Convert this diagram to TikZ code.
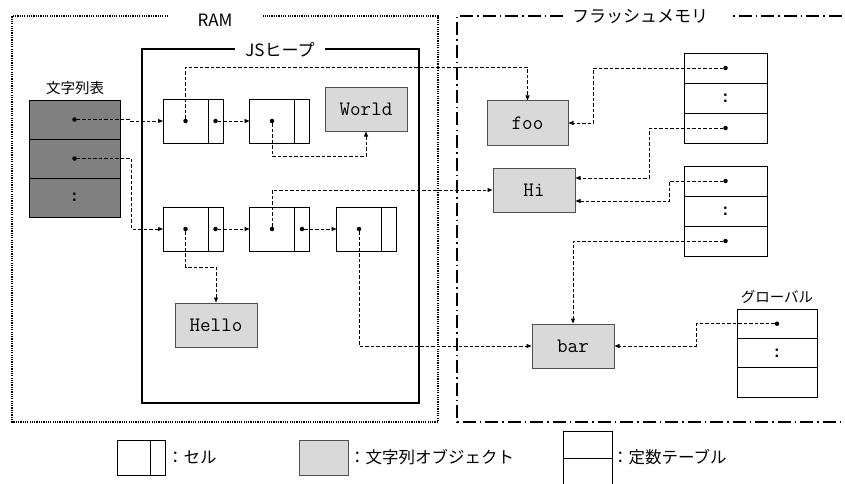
\documentclass[tikz,border=0pt]{standalone}
\usepackage{fontspec}
\setmainfont{Noto Sans CJK JP}
\newfontfamily\colonfont{Liberation Mono}
\usetikzlibrary{arrows.meta,positioning}
\definecolor{strG}{RGB}{217,217,217}
\definecolor{tblG}{RGB}{128,128,128}
\definecolor{edgeG}{RGB}{80,80,80}

\tikzset{
  cellL/.style={draw=black,line width=0.9pt,minimum width=45,minimum height=44,inner sep=0,outer sep=0},
  cellR/.style={cellL,minimum width=15},
  strobj/.style={draw=edgeG,fill=strG,line width=1pt,minimum width=82,minimum height=44,inner sep=0,
    font=\ttfamily\fontsize{20.5}{20.5}\selectfont},
  crow/.style={draw=black,line width=0.9pt,minimum width=83,minimum height=30,inner sep=0,outer sep=0,
    font=\colonfont\bfseries\fontsize{16}{16}\selectfont},
  strow/.style={crow,fill=tblG,minimum width=91,minimum height=39},
  ptrdot/.style={circle,fill=black,inner sep=0,minimum size=4.5},
  ptr/.style={-{Triangle[length=5pt,width=4pt]},dash pattern=on 3.5pt off 2pt,line width=0.9pt},
  lbl/.style={inner sep=0,font=\fontsize{17}{17}\selectfont},
  smlbl/.style={inner sep=0,font=\fontsize{14.5}{14.5}\selectfont},
  lgd/.style={inner sep=0,anchor=west,font=\fontsize{16.5}{16.5}\selectfont},
}

\begin{document}
\begin{tikzpicture}[x=1pt,y=-1pt]
\useasboundingbox (0,0) rectangle (845,484);
% memory regions
\draw[line width=1.5pt,dash pattern=on 1.2pt off 1.1pt] (168,16) -- (12,16) -- (12,422) -- (438,422) -- (438,16) -- (263,16);
\node[lbl] (ramlbl) at (215,20) {RAM};
\draw[line width=2pt] (142,49) rectangle (419,403);
\node[lbl,fill=white,inner xsep=10pt,inner ysep=2pt] (heaplbl) at (280,50) {JSヒープ};
\draw[line width=2pt,dash pattern=on 13pt off 4pt on 1.5pt off 4pt] (563,16) -- (457,16) -- (457,422) -- (845,422);
\draw[line width=2pt,dash pattern=on 1.5pt off 4pt on 13pt off 4pt] (733,16) -- (845,16);
\node[lbl] (flashlbl) at (640,17) {フラッシュメモリ};

% string table
\node[smlbl] (strtbllbl) at (75,88) {文字列表};
\node[strow] (s1) at (74.5,119.5) {};
\node[strow,below=0pt of s1] (s2) {};
\node[strow,below=0pt of s2] (s3) {:};

% cells
\node[cellL] (a1) at (185.5,121) {};  \node[cellR,right=0pt of a1] (a1p) {};
\node[cellL] (a2) at (272,121) {};    \node[cellR,right=0pt of a2] (a2p) {};
\node[cellL] (b1) at (185.5,229) {};  \node[cellR,right=0pt of b1] (b1p) {};
\node[cellL] (b2) at (272,229) {};    \node[cellR,right=0pt of b2] (b2p) {};
\node[cellL] (b3) at (359,229) {};    \node[cellR,right=0pt of b3] (b3p) {};

% string objects
\node[strobj,minimum height=43] (world) at (366,109.5) {World};
\node[strobj] (hello) at (216,325) {Hello};
\node[strobj,minimum width=81] (foo) at (527.5,123) {foo};
\node[strobj] (hi) at (534,190) {Hi};
\node[strobj] (bar) at (573,346) {bar};

% constant tables
\node[crow] (t1a) at (725.5,68) {};
\node[crow,below=0pt of t1a] (t1b) {:};
\node[crow,below=0pt of t1b] (t1c) {};
\node[crow] (t2a) at (725.5,181) {};
\node[crow,below=0pt of t2a] (t2b) {:};
\node[crow,below=0pt of t2b] (t2c) {};
\node[smlbl] (globlbl) at (777,297) {グローバル};
\node[crow,minimum width=80,minimum height=29.3] (g1) at (777,323.7) {};
\node[crow,minimum width=80,minimum height=29.3,below=0pt of g1] (g2) {:};
\node[crow,minimum width=80,minimum height=29.3,below=0pt of g2] (g3) {};

% pointer dots
\node[ptrdot] (s1d) at (s1) {};   \node[ptrdot] (s2d) at (s2) {};
\node[ptrdot] (a1d) at (a1) {};   \node[ptrdot] (a1pd) at (a1p) {};
\node[ptrdot] (a2d) at (a2) {};
\node[ptrdot] (b1d) at (b1) {};   \node[ptrdot] (b1pd) at (b1p) {};
\node[ptrdot] (b2d) at (b2) {};   \node[ptrdot] (b2pd) at (b2p) {};
\node[ptrdot] (b3d) at (b3) {};
\node[ptrdot] (t1ad) at (t1a) {}; \node[ptrdot] (t1cd) at (t1c) {};
\node[ptrdot] (t2ad) at (t2a) {}; \node[ptrdot] (t2cd) at (t2c) {};
\node[ptrdot] (g1d) at (g1) {};

% pointers
\draw[ptr] (s1d) -- ++(56,0) |- (a1.west);
\draw[ptr] (s2d) -- ++(57,0) |- (b1.west);
\draw[ptr] (a1d) -- ++(0,-54) -| (foo.north);
\draw[ptr] (a1pd) -- (a2.west);
\draw[ptr] (a2d) -- ++(0,35) -| (world.south);
\draw[ptr] (b1d) -- ++(0,38) -| (hello.north);
\draw[ptr] (b1pd) -- (b2.west);
\draw[ptr] (b2d) |- (hi.west);
\draw[ptr] (b2pd) -- (b3.west);
\draw[ptr] (b3d) |- (bar.west);
\draw[ptr] (t1ad) -- ++(-132,0) |- (foo.east);
\draw[ptr] (t1cd) -- ++(-76,0) |- ([yshift=12pt]hi.east);
\draw[ptr] (t2ad) -- ++(-56,0) |- ([yshift=-11pt]hi.east);
\draw[ptr] (t2cd) -| (bar.north);
\draw[ptr] (g1d) -- ++(-81,0) |- (bar.east);

% legend
\node[cellL,minimum width=33,minimum height=35] (lgcell) at (133.5,457.5) {};
\node[cellR,minimum height=35,right=0pt of lgcell] (lgcellp) {};
\node[lgd] (lgcelltxt) at (167,457) {：セル};
\node[strobj,minimum width=49,minimum height=35] (lgstr) at (323.5,457.5) {};
\node[lgd] (lgstrtxt) at (349,457) {：文字列オブジェクト};
\node[crow,minimum width=49,minimum height=27] (lgtbla) at (587.5,444.5) {};
\node[crow,minimum width=49,minimum height=30,below=0pt of lgtbla] (lgtblb) {};
\node[lgd] (lgtbltxt) at (612,457) {：定数テーブル};
\end{tikzpicture}
\end{document}
